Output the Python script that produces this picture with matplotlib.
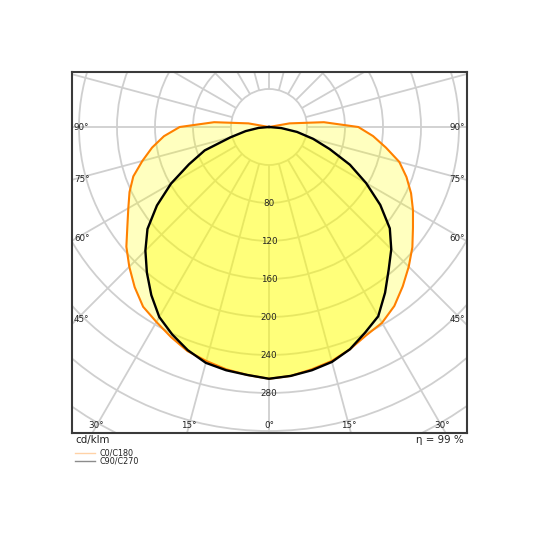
import numpy as np
import matplotlib
matplotlib.use("Agg")
import matplotlib.pyplot as plt
from matplotlib.patches import Circle
from matplotlib.transforms import offset_copy

# ---------------- data (cd/klm) ----------------
gamma_c0 = [0, 5, 10, 15, 20, 25, 30, 35, 40, 45, 50, 55, 60, 65, 70, 75, 80, 85, 90, 95, 100, 105,
            110, 120, 130, 140, 150, 160, 170, 180]
i_c0 = [266, 263, 259, 255, 249, 242, 238, 230, 219, 208, 197, 185, 175, 165, 154, 142, 125, 110, 94, 58, 22, 0,
        0, 0, 0, 0, 0, 0, 0, 0]
i_c180 = [265, 262, 259, 255, 251, 244, 237, 231, 220, 208, 196, 182, 171, 162, 152, 138, 125, 111, 94, 58, 22, 0,
          0, 0, 0, 0, 0, 0, 0, 0]

gamma_c90 = [0, 5, 10, 15, 20, 25, 30, 35, 40, 45, 50, 55, 60, 65, 70, 75, 80, 85, 90]
i_c90 = [266, 263, 260, 256, 249, 239, 230, 213, 196, 182, 166, 143, 118, 94, 68, 48, 30, 13, 0]
i_c270 = [265, 262, 260, 257, 250, 241, 231, 216, 200, 184, 167, 144, 119, 93, 72, 42, 25, 11, 0]

ring_values = [40, 80, 120, 160, 200, 240, 280, 320, 360, 400]
ring_labels = [80, 120, 160, 200, 240, 280]
angle_labels = [0, 15, 30, 45, 60, 75, 90]
efficiency = 99
unit = "cd/klm"
legend_names = ["C0/C180", "C90/C270"]

# ---------------- helpers ----------------
def to_xy(gam, inten, side):
    g = np.radians(np.asarray(gam, float))
    r = np.asarray(inten, float)
    return side * r * np.sin(g), -r * np.cos(g)

def closed_curve(gam, right, left):
    xr, yr = to_xy(gam, right, 1)
    xl, yl = to_xy(gam, left, -1)
    x = np.concatenate([xl[::-1], xr[1:]])
    y = np.concatenate([yl[::-1], yr[1:]])
    return x, y

# ---------------- figure ----------------
fig = plt.figure(figsize=(5.4, 5.4), dpi=100)
ax = fig.add_axes([72/540, 1-433/540, 395/540, 361/540])
scale = 0.95  # px per cd/klm
ax.set_xlim(-197/scale, 198/scale)
ax.set_ylim(-306/scale, 55/scale)
ax.set_aspect('auto')
ax.set_xticks([]); ax.set_yticks([])
for s in ax.spines.values():
    s.set_color('#3a3a3a'); s.set_linewidth(1.5); s.set_zorder(10)

grid_c = '#cfcfcf'
for rv in ring_values:
    ax.add_patch(Circle((0, 0), rv, fill=False, ec=grid_c, lw=1.3, zorder=1))
for a in range(0, 360, 15):
    t = np.radians(a)
    ax.plot([40*np.sin(t), 600*np.sin(t)], [-40*np.cos(t), -600*np.cos(t)],
            color=grid_c, lw=1.3, zorder=1, solid_capstyle='butt')

x0, y0 = closed_curve(gamma_c0, i_c0, i_c180)
x9, y9 = closed_curve(gamma_c90, i_c90, i_c270)
ax.fill(x0, y0, color='#ffff00', alpha=0.25, lw=0, zorder=2)
ax.fill(x9, y9, color='#ffff00', alpha=0.36, lw=0, zorder=3)
ax.plot(x0, y0, color='#ff8000', lw=1.5, zorder=5)
ax.plot(x9, y9, color='black', lw=1.7, zorder=6)

for rv in ring_labels:
    ax.text(0, -rv, str(rv), ha='center', va='center', fontsize=6.3, color='#222222', zorder=7)

xl, xr = ax.get_xlim()
yb, yt = ax.get_ylim()
for a in angle_labels:
    t = np.radians(a)
    if a == 0 or (np.tan(t) * (-yb) < xr - 5):
        xx = -yb * np.tan(t)
        for sgn in ([1] if a == 0 else [-1, 1]):
            inward = -sgn * 4 if a == 30 else (-sgn * 2 if a == 15 else 0)
            tr = offset_copy(ax.transData, fig=fig, x=inward, y=3, units='dots')
            ax.text(sgn*xx, yb, f"{a}°", ha='center', va='bottom', fontsize=6.3,
                    color='#222222', transform=tr, zorder=7)
    else:
        yy = -(-xl) / np.tan(t) if a != 90 else 0.0
        up = {45: 4, 60: 2}.get(a, 0)
        trl = offset_copy(ax.transData, fig=fig, x=2, y=up, units='dots')
        trr = offset_copy(ax.transData, fig=fig, x=-2, y=up, units='dots')
        ax.text(xl, yy, f"{a}°", ha='left', va='center', fontsize=6.3, color='#222222',
                transform=trl, zorder=7)
        ax.text(xr, yy, f"{a}°", ha='right', va='center', fontsize=6.3, color='#222222',
                transform=trr, zorder=7)

fig.text(75/540, 1-440/540, unit, ha='left', va='center', fontsize=7.4, color='#222222')
fig.text(464/540, 1-440/540, f"η = {efficiency} %", ha='right', va='center', fontsize=7.4, color='#222222')

leg_y = [453, 461]
leg_col = [('#ff8000', 0.35), ('#000000', 0.45)]
for yv, name, (c, al) in zip(leg_y, legend_names, leg_col):
    fig.add_artist(plt.Line2D([75/540, 95/540], [1-yv/540, 1-yv/540], color=c, alpha=al, lw=1.0))
    fig.text(100/540, 1-yv/540, name, ha='left', va='center', fontsize=5.8, color='#222222')

fig.savefig("out.png", dpi=100)
